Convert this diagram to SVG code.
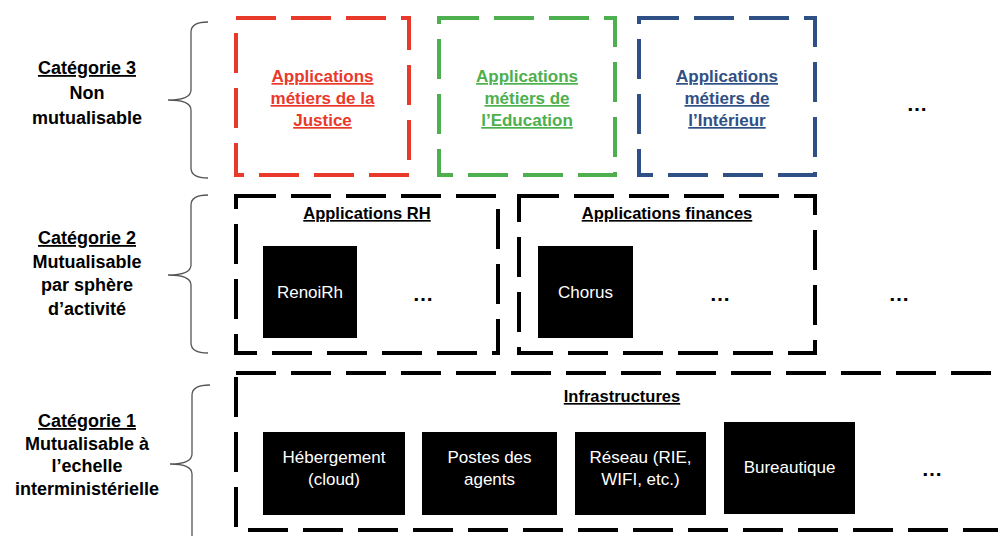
<svg xmlns="http://www.w3.org/2000/svg" width="998" height="536" viewBox="0 0 998 536">
<style>
text{font-family:"Liberation Sans",Arial,sans-serif;}
.cat{font-size:18px;font-weight:bold;fill:#000;text-anchor:middle;}
.u{text-decoration:underline;}
.ttl{font-size:17px;font-weight:bold;text-anchor:middle;text-decoration:underline;}
.sub{font-size:16.5px;font-weight:bold;fill:#000;text-anchor:middle;text-decoration:underline;}
.box{fill:none;stroke-width:4;stroke-dasharray:40 15;stroke-linejoin:miter;}
.blk{fill:#000;}
.wt{font-size:17px;fill:#fff;text-anchor:middle;}
.dots{font-size:21px;font-weight:bold;fill:#000;text-anchor:middle;}
.brace{fill:none;stroke:#555;stroke-width:1.3;}
</style>

<g id="labels">
<g id="cat3-label">
<text class="cat" x="87" y="74"><tspan class="u">Catégorie 3</tspan></text>
<text class="cat" x="87" y="99">Non</text>
<text class="cat" x="87" y="124">mutualisable</text>
</g>
<g id="cat2-label">
<text class="cat" x="87" y="244"><tspan class="u">Catégorie 2</tspan></text>
<text class="cat" x="87" y="268">Mutualisable</text>
<text class="cat" x="87" y="291">par sphère</text>
<text class="cat" x="87" y="315">d’activité</text>
</g>
<g id="cat1-label">
<text class="cat" x="87" y="427"><tspan class="u">Catégorie 1</tspan></text>
<text class="cat" x="87" y="450">Mutualisable à</text>
<text class="cat" x="87" y="472">l’echelle</text>
<text class="cat" x="87" y="495">interministérielle</text>
</g>
</g>

<g id="connectors">
<path class="brace" d="M208,22 Q191,22 191,32 L191,90 Q191,100 168,100 Q191,100 191,110 L191,168 Q191,178 208,178"/>
<path class="brace" d="M208,195 Q191,195 191,205 L191,265 Q191,275 168,275 Q191,275 191,285 L191,343 Q191,353 208,353"/>
<path class="brace" d="M210,385 Q192,385 192,395 L192,454 Q192,464 170,464 Q192,464 192,474 L192,540"/>
</g>

<g id="justice">
<rect class="box" stroke="#E8392B" x="236" y="18" width="173" height="157"/>
<text class="ttl" fill="#E8392B" x="322.5" y="82">Applications</text>
<text class="ttl" fill="#E8392B" x="322.5" y="104">métiers de la</text>
<text class="ttl" fill="#E8392B" x="322.5" y="126">Justice</text>
</g>
<g id="education">
<rect class="box" stroke="#4DAF4E" x="439" y="18" width="176" height="157"/>
<text class="ttl" fill="#4DAF4E" x="527" y="82">Applications</text>
<text class="ttl" fill="#4DAF4E" x="527" y="104">métiers de</text>
<text class="ttl" fill="#4DAF4E" x="527" y="126">l’Education</text>
</g>
<g id="interieur">
<rect class="box" stroke="#2F5084" x="639" y="18" width="176" height="157"/>
<text class="ttl" fill="#2F5084" x="727" y="82">Applications</text>
<text class="ttl" fill="#2F5084" x="727" y="104">métiers de</text>
<text class="ttl" fill="#2F5084" x="727" y="126">l’Intérieur</text>
</g>
<g id="dots-cat3"><text class="dots" x="917" y="111">…</text></g>

<g id="rh">
<rect class="box" stroke="#000" x="236" y="196" width="262" height="157"/>
<text class="sub" x="367" y="219">Applications RH</text>
<g id="renoirh">
<rect class="blk" x="263" y="246" width="94" height="92"/>
<text class="wt" x="310" y="298">RenoiRh</text>
</g>
<text class="dots" x="423" y="301">…</text>
</g>
<g id="finances">
<rect class="box" stroke="#000" x="519" y="196" width="296" height="157"/>
<text class="sub" x="667" y="219">Applications finances</text>
<g id="chorus">
<rect class="blk" x="538" y="246" width="95" height="92"/>
<text class="wt" x="585.5" y="298">Chorus</text>
</g>
<text class="dots" x="720" y="301">…</text>
</g>
<g id="dots-cat2"><text class="dots" x="899" y="301">…</text></g>

<g id="infrastructures">
<rect class="box" stroke="#000" x="236" y="373" width="800" height="157"/>
<text class="sub" x="622" y="402">Infrastructures</text>
<g id="hebergement">
<rect class="blk" x="263" y="432" width="142" height="83"/>
<text class="wt" x="334" y="463">Hébergement</text>
<text class="wt" x="334" y="485">(cloud)</text>
</g>
<g id="postes">
<rect class="blk" x="422" y="432" width="135" height="83"/>
<text class="wt" x="489.5" y="463">Postes des</text>
<text class="wt" x="489.5" y="485">agents</text>
</g>
<g id="reseau">
<rect class="blk" x="575" y="432" width="131" height="83"/>
<text class="wt" x="640.5" y="463">Réseau (RIE,</text>
<text class="wt" x="640.5" y="485">WIFI, etc.)</text>
</g>
<g id="bureautique">
<rect class="blk" x="724" y="422" width="131" height="92"/>
<text class="wt" x="789.5" y="473">Bureautique</text>
</g>
<text class="dots" x="932" y="476">…</text>
</g>
</svg>
